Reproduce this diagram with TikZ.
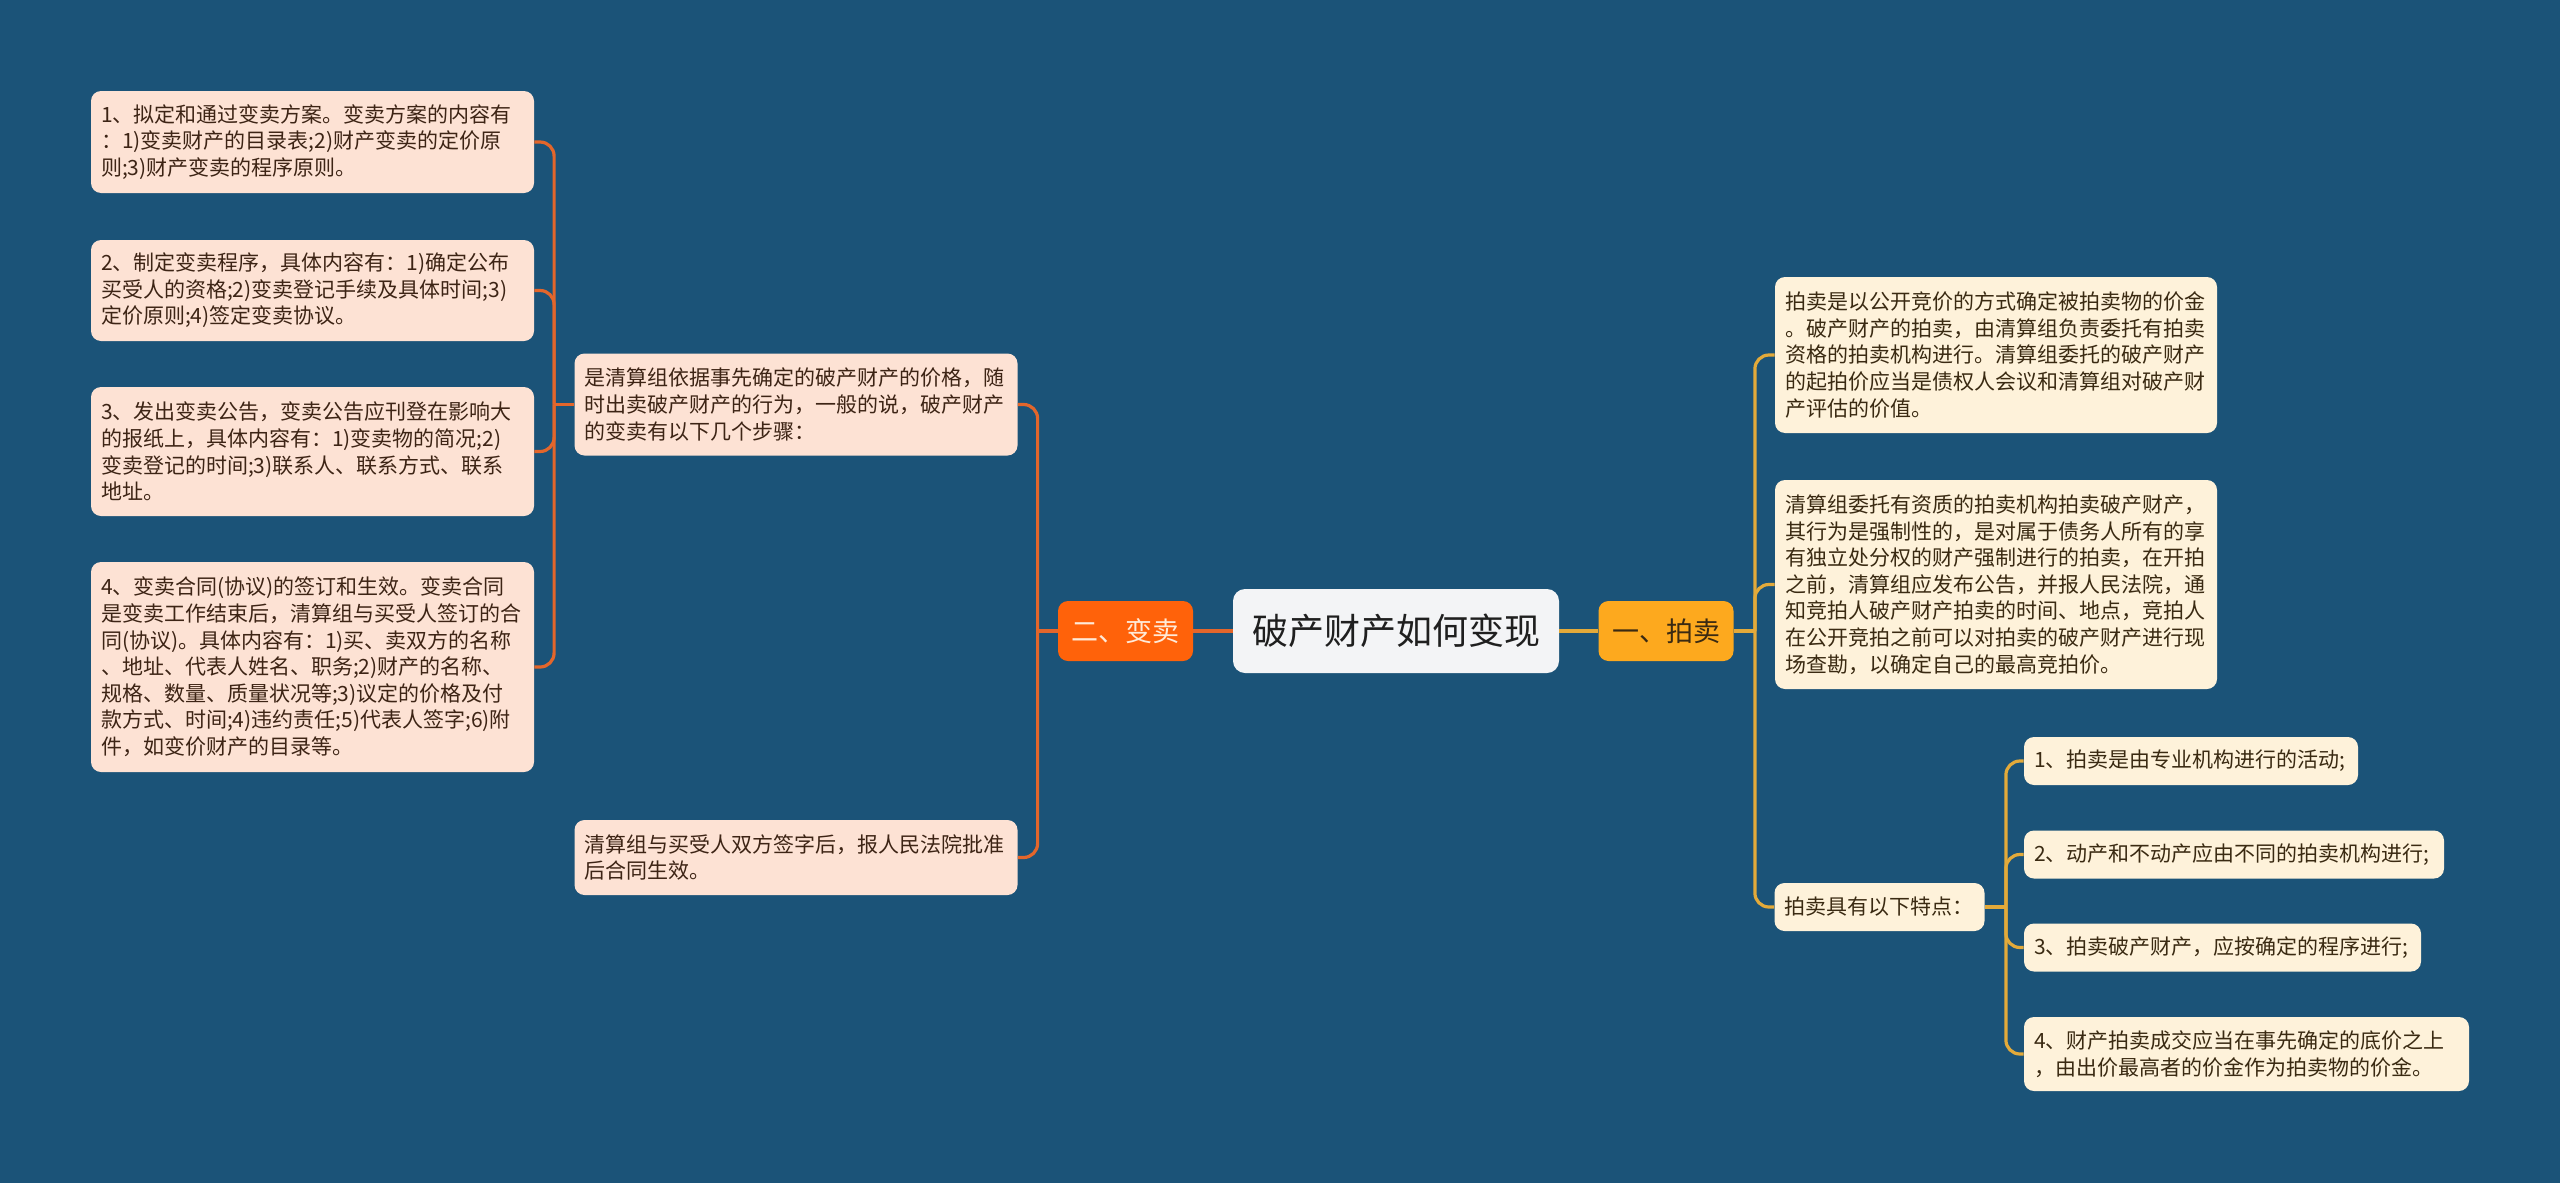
\documentclass[tikz,border=0pt]{standalone}
\usepackage{fontspec}
\setmainfont{Noto Sans CJK SC}
\usetikzlibrary{positioning}

\definecolor{bgblue}{HTML}{1B5378}
\definecolor{rootfill}{HTML}{F3F4F6}
\definecolor{roottext}{HTML}{1F1F1F}
\definecolor{sellhub}{HTML}{FF620A}
\definecolor{sellhubtext}{HTML}{FFEAD8}
\definecolor{auchub}{HTML}{FDA91E}
\definecolor{sellline}{HTML}{E3662B}
\definecolor{aucline}{HTML}{E3AA3A}
\definecolor{peach}{HTML}{FDE2D4}
\definecolor{cream}{HTML}{FEF2DA}
\definecolor{selltext}{HTML}{3D2415}
\definecolor{auctext}{HTML}{3A2A12}

\begin{document}
\begin{tikzpicture}[
  x=0.5pt, y=-0.5pt,
  leaf/.style={rectangle, rounded corners=5pt, align=left, inner xsep=5pt, inner ysep=2pt, font=\fontsize{10.5pt}{13.3pt}\selectfont},
  sellleaf/.style={leaf, fill=peach, text=selltext},
  aucleaf/.style={leaf, fill=cream, text=auctext},
  hub/.style={rectangle, rounded corners=5pt, minimum width=67.5pt, minimum height=30pt, font=\fontsize{13.5pt}{16pt}\selectfont},
  sellwire/.style={draw=sellline, line width=1.6pt, rounded corners=7pt},
  aucwire/.style={draw=aucline, line width=1.6pt, rounded corners=7pt},
]

\fill[bgblue] (0,0) rectangle (2560,1183);
\useasboundingbox (0,0) rectangle (2560,1183);

% === CENTRE ===
\node[rectangle, rounded corners=6pt, fill=rootfill, text=roottext, minimum width=163pt, minimum height=42pt, font=\fontsize{18pt}{22pt}\selectfont] (root) at (1396,631) {破产财产如何变现};

\node[hub, fill=sellhub, text=sellhubtext] (sell) at (1125.5,631) {二、变卖};
\node[hub, fill=auchub, text=auctext] (auction) at (1666,631) {一、拍卖};

% === LEFT: 变卖 ===
\node[sellleaf, text width=211.5pt, minimum height=51pt] (selldef) at (796,404.5)
  {是清算组依据事先确定的破产财产的价格，随\\时出卖破产财产的行为，一般的说，破产财产\\的变卖有以下几个步骤：};
\node[sellleaf, text width=211.5pt, minimum height=37.5pt] (sellcourt) at (796,857.5)
  {清算组与买受人双方签字后，报人民法院批准\\后合同生效。};

\node[sellleaf, text width=211.5pt, minimum height=51pt] (stepplan) at (312.5,142)
  {1、拟定和通过变卖方案。变卖方案的内容有\\：1)变卖财产的目录表;2)财产变卖的定价原\\则;3)财产变卖的程序原则。};
\node[sellleaf, text width=211.5pt, minimum height=50.5pt] (steprule) at (312.5,290.5)
  {2、制定变卖程序，具体内容有：1)确定公布\\买受人的资格;2)变卖登记手续及具体时间;3)\\定价原则;4)签定变卖协议。};
\node[sellleaf, text width=211.5pt, minimum height=64.5pt] (stepnotice) at (312.5,451.5)
  {3、发出变卖公告，变卖公告应刊登在影响大\\的报纸上，具体内容有：1)变卖物的简况;2)\\变卖登记的时间;3)联系人、联系方式、联系\\地址。};
\node[sellleaf, text width=211.5pt, minimum height=105pt] (stepdeal) at (312.5,667)
  {4、变卖合同(协议)的签订和生效。变卖合同\\是变卖工作结束后，清算组与买受人签订的合\\同(协议)。具体内容有：1)买、卖双方的名称\\、地址、代表人姓名、职务;2)财产的名称、\\规格、数量、质量状况等;3)议定的价格及付\\款方式、时间;4)违约责任;5)代表人签字;6)附\\件，如变价财产的目录等。};

% === RIGHT: 拍卖 ===
\node[aucleaf, text width=211pt, minimum height=78pt] (aucdef) at (1996,355)
  {拍卖是以公开竞价的方式确定被拍卖物的价金\\。破产财产的拍卖，由清算组负责委托有拍卖\\资格的拍卖机构进行。清算组委托的破产财产\\的起拍价应当是债权人会议和清算组对破产财\\产评估的价值。};
\node[aucleaf, text width=211pt, minimum height=104.5pt] (aucforce) at (1996,584.5)
  {清算组委托有资质的拍卖机构拍卖破产财产，\\其行为是强制性的，是对属于债务人所有的享\\有独立处分权的财产强制进行的拍卖，在开拍\\之前，清算组应发布公告，并报人民法院，通\\知竞拍人破产财产拍卖的时间、地点，竞拍人\\在公开竞拍之前可以对拍卖的破产财产进行现\\场查勘，以确定自己的最高竞拍价。};
\node[aucleaf, text width=95pt, minimum height=24pt] (feat) at (1879.5,907) {拍卖具有以下特点：};

\node[aucleaf, text width=157pt, minimum height=24pt] (feata) at (2191,761) {1、拍卖是由专业机构进行的活动;};
\node[aucleaf, text width=200pt, minimum height=24pt] (featb) at (2234,854.5) {2、动产和不动产应由不同的拍卖机构进行;};
\node[aucleaf, text width=188.5pt, minimum height=24pt] (featc) at (2222.5,947.5) {3、拍卖破产财产，应按确定的程序进行;};
\node[aucleaf, text width=212.5pt, minimum height=37pt] (featd) at (2246.5,1054)
  {4、财产拍卖成交应当在事先确定的底价之上\\，由出价最高者的价金作为拍卖物的价金。};

% forks
\coordinate (sellfork) at ([xshift=-10pt]sell.west);
\coordinate (stepfork) at ([xshift=-10pt]selldef.west);
\coordinate (aucfork) at ([xshift=10.5pt]auction.east);
\coordinate (featfork) at ([xshift=10.5pt]feat.east);

% === CONNECTORS ===
\draw[sellwire] (root.west) -- (sell.east);
\draw[aucwire] (root.east) -- (auction.west);

\draw[sellwire] (sell.west) -- (sellfork);
\draw[sellwire] (sellfork) |- (selldef.east);
\draw[sellwire] (sellfork) |- (sellcourt.east);

\draw[sellwire] (selldef.west) -- (stepfork);
\draw[sellwire] (stepfork) |- (stepplan.east);
\draw[sellwire] (stepfork) |- (steprule.east);
\draw[sellwire] (stepfork) |- (stepnotice.east);
\draw[sellwire] (stepfork) |- (stepdeal.east);

\draw[aucwire] (auction.east) -- (aucfork);
\draw[aucwire] (aucfork) |- (aucdef.west);
\draw[aucwire] (aucfork) |- (aucforce.west);
\draw[aucwire] (aucfork) |- (feat.west);

\draw[aucwire] (feat.east) -- (featfork);
\draw[aucwire] (featfork) |- (feata.west);
\draw[aucwire] (featfork) |- (featb.west);
\draw[aucwire] (featfork) |- (featc.west);
\draw[aucwire] (featfork) |- (featd.west);
\end{tikzpicture}
\end{document}
